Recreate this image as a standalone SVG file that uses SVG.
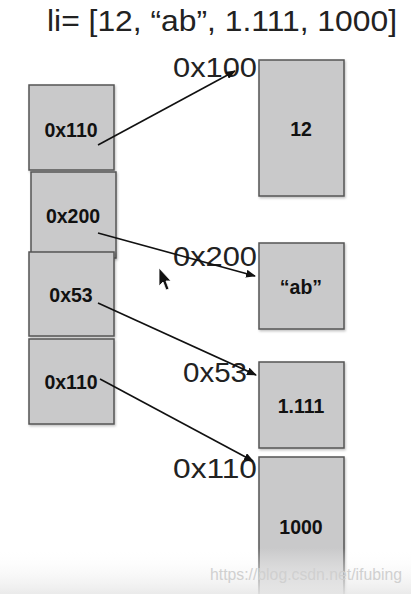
<svg xmlns="http://www.w3.org/2000/svg" width="411" height="594" viewBox="0 0 411 594">
<style>
.box{fill:#c9c9ca;stroke:#555555;stroke-width:1.5;filter:url(#sh)}
.lbl{font-family:"Liberation Sans",Arial,sans-serif;font-weight:bold;font-size:19.5px;fill:#111;text-anchor:middle}
.addr{font-family:"Liberation Sans",Arial,sans-serif;font-size:27px;fill:#222}
.con{stroke:#111;stroke-width:1.6;fill:none;marker-end:url(#ah)}
</style>
<defs>
<marker id="ah" markerWidth="10" markerHeight="8" refX="9" refY="4" orient="auto" markerUnits="userSpaceOnUse">
<path d="M0,0 L10,4 L0,8 z" fill="#111"/>
</marker>
<filter id="sh" x="-10%" y="-10%" width="130%" height="130%">
<feDropShadow dx="1" dy="1.5" stdDeviation="1" flood-color="#000" flood-opacity="0.25"/>
</filter>
<linearGradient id="fade" x1="0" y1="0" x2="0" y2="1">
<stop offset="0" stop-color="#ffffff" stop-opacity="0"/>
<stop offset="1" stop-color="#e8e8e8" stop-opacity="0.9"/>
</linearGradient>
</defs>
<rect width="411" height="594" fill="#fff"/>
<text x="47" y="31" font-family="Liberation Sans,Arial,sans-serif" font-size="30" fill="#222" textLength="350" lengthAdjust="spacingAndGlyphs">li= [12, “ab”, 1.111, 1000]</text>
<g id="n-left1"><rect class="box" x="29" y="85" width="85" height="85"/><text class="lbl" x="71" y="137">0x110</text></g>
<g id="n-left2"><rect class="box" x="31" y="172" width="85" height="86"/><text class="lbl" x="73" y="223">0x200</text></g>
<g id="n-left3"><rect class="box" x="29" y="252" width="85" height="84"/><text class="lbl" x="71" y="302">0x53</text></g>
<g id="n-left4"><rect class="box" x="29" y="339" width="85" height="85"/><text class="lbl" x="71" y="389">0x110</text></g>
<g id="n-right1"><rect class="box" x="259" y="60" width="85" height="136"/><text class="lbl" x="301" y="136">12</text></g>
<g id="n-right2"><rect class="box" x="259" y="243" width="85" height="86"/><text class="lbl" x="301" y="294">“ab”</text></g>
<g id="n-right3"><rect class="box" x="259" y="362" width="85" height="86"/><text class="lbl" x="301" y="413">1.111</text></g>
<g id="n-right4"><rect class="box" x="259" y="457" width="85" height="145"/><text class="lbl" x="301" y="534">1000</text></g>
<g id="addr-labels">
<text class="addr" x="173" y="77" textLength="84" lengthAdjust="spacingAndGlyphs">0x100</text>
<text class="addr" x="173" y="266" textLength="84" lengthAdjust="spacingAndGlyphs">0x200</text>
<text class="addr" x="183" y="382" textLength="64" lengthAdjust="spacingAndGlyphs">0x53</text>
<text class="addr" x="173" y="478" textLength="84" lengthAdjust="spacingAndGlyphs">0x110</text>
</g>
<g id="connectors">
<line class="con" x1="98" y1="145" x2="235" y2="71"/>
<line class="con" x1="98" y1="233" x2="255" y2="276"/>
<line class="con" x1="98" y1="303" x2="256" y2="375"/>
<line class="con" x1="100" y1="379" x2="253" y2="461"/>
</g>
<path d="M159,268 L159,286 L163,282 L166,290 L169,289 L166,281 L171,281 z" fill="#111" stroke="#fff" stroke-width="0.8"/>
<rect x="0" y="548" width="411" height="46" fill="url(#fade)"/>
<text x="210" y="580" font-family="Liberation Sans,Arial,sans-serif" font-size="16" fill="#d0d0d0" textLength="192" lengthAdjust="spacingAndGlyphs">https://blog.csdn.net/ifubing</text>
</svg>
